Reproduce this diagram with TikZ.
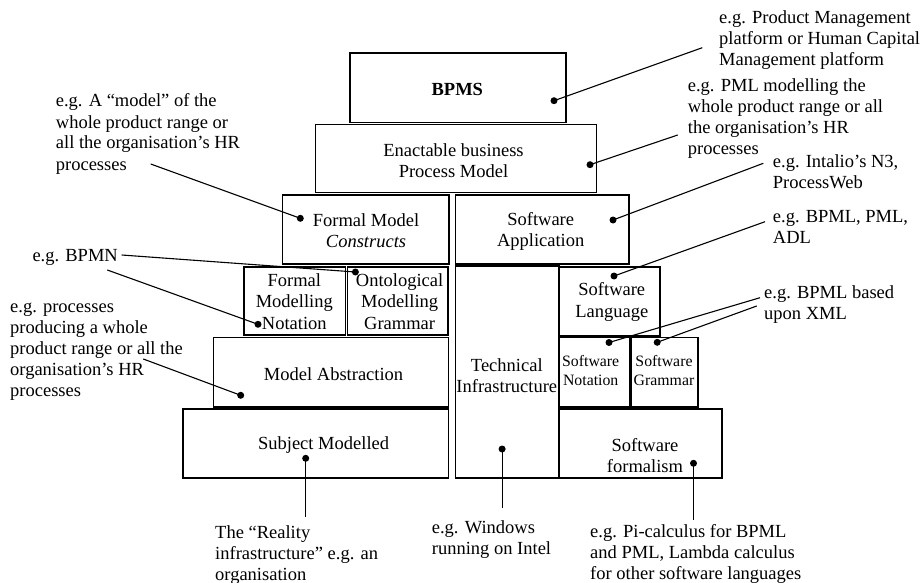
\documentclass[tikz,border=0pt]{standalone}
\usepackage{fontspec}
\setmainfont{Liberation Serif}
\begin{document}
\begin{tikzpicture}[x=1pt,y=-1pt,
  box/.style={draw, line width=1.8pt, inner sep=0pt, outer sep=0pt},
  txt/.style={inner sep=0pt, align=center, font=\fontsize{18.5}{21.5}\selectfont},
  stxt/.style={inner sep=0pt, align=center, font=\fontsize{15.8}{19}\selectfont},
  lbl/.style={inner sep=0pt, align=left, anchor=base west, font=\fontsize{18.5}{21}\selectfont},
  lead/.style={line width=1.1pt},
  dot/.style={circle, fill, inner sep=0pt, minimum size=7pt}]
\useasboundingbox (0,0) rectangle (923,583);

% boxes
\node[box, minimum width=216pt, minimum height=69.5pt] (bpms) at (458,87.75) {};
\node[box, minimum width=281pt, minimum height=68pt] (enact) at (456,158.5) {};
\node[box, minimum width=166.2pt, minimum height=69pt] (fmc) at (365.6,229.5) {};
\node[box, minimum width=173.8pt, minimum height=69pt] (swapp) at (542.4,229.5) {};
\node[box, minimum width=101.4pt, minimum height=68.6pt] (fmn) at (294.7,301) {};
\node[box, minimum width=100.5pt, minimum height=68.6pt] (omg) at (397.75,301) {};
\node[box, minimum width=235pt, minimum height=69.2pt] (mabs) at (331,372.1) {};
\node[box, minimum width=265.5pt, minimum height=69.3pt] (subj) at (315.75,443.65) {};
\node[box, minimum width=103.1pt, minimum height=212.3pt] (tech) at (507.05,372.15) {};
\node[box, minimum width=101.6pt, minimum height=69pt] (swlang) at (609.4,301.2) {};
\node[box, minimum width=70.3pt, minimum height=69.2pt] (swnot) at (594.45,372.1) {};
\node[box, minimum width=66.6pt, minimum height=69.2pt] (swgram) at (664.7,372.1) {};
\node[box, minimum width=163.2pt, minimum height=69.3pt] (swform) at (640.2,443.65) {};

% box texts
\node[txt, font=\fontsize{18.5}{21.5}\selectfont\bfseries] (tbpms) at (457.3,89.3) {BPMS};
\node[txt] (tenact) at (453.5,160.5) {Enactable business\\Process Model};
\node[txt] (tfmc) at (366,230.5) {Formal Model\\\textit{Constructs}};
\node[txt] (tswapp) at (540.7,231.5) {Software\\Application};
\node[txt] (tfmn) at (294.3,301.5) {Formal\\Modelling\\Notation};
\node[txt] (tomg) at (399.6,301.5) {Ontological\\Modelling\\Grammar};
\node[txt] (tmabs) at (333.6,374.3) {Model Abstraction};
\node[txt] (tsubj) at (323.6,445) {Subject Modelled};
\node[txt] (ttech) at (506.8,375.5) {Technical\\Infrastructure};
\node[txt] (tswlang) at (611.8,302) {Software\\Language};
\node[stxt] (tswnot) at (590.7,370.5) {Software\\Notation};
\node[stxt] (tswgram) at (664,370.5) {Software\\Grammar};
\node[txt] (tswform) at (645,455.5) {Software\\formalism};

% labels (positioned at the baseline of their last line)
\node[lbl] (l1) at (719,65.5) {e.g. Product Management\\platform or Human Capital\\Management platform};
\node[lbl] (l2) at (687.7,154.5) {e.g. PML modelling the\\whole product range or all\\the organisation’s HR\\processes};
\node[lbl] (l3) at (772.7,188.5) {e.g. Intalio’s N3,\\ProcessWeb};
\node[lbl] (l4) at (772.7,243) {e.g. BPML, PML,\\ADL};
\node[lbl] (l5) at (764,319.5) {e.g. BPML based\\upon XML};
\node[lbl] (l6) at (55.7,170) {e.g. A “model” of the\\whole product range or\\all the organisation’s HR\\processes};
\node[lbl] (l7) at (32.3,261) {e.g. BPMN};
\node[lbl] (l8) at (10,396) {e.g. processes\\producing a whole\\product range or all the\\organisation’s HR\\processes};
\node[lbl] (l9) at (215,580) {The “Reality\\infrastructure” e.g. an\\organisation};
\node[lbl] (l10) at (431.7,554) {e.g. Windows\\running on Intel};
\node[lbl] (l11) at (590,579) {e.g. Pi-calculus for BPML\\and PML, Lambda calculus\\for other software languages};

% dots
\node[dot] (d1) at (554,100.7) {};
\node[dot] (d2) at (590,164.7) {};
\node[dot] (d3) at (613,220) {};
\node[dot] (d4) at (614,276) {};
\node[dot] (d5) at (609,342.5) {};
\node[dot] (d6) at (657.2,342.3) {};
\node[dot] (d7) at (300.3,218.3) {};
\node[dot] (d8) at (355.4,272) {};
\node[dot] (d9) at (258,324.3) {};
\node[dot] (d10) at (240.7,395.3) {};
\node[dot] (d11) at (305.7,458.3) {};
\node[dot] (d12) at (502.1,449) {};
\node[dot] (d13) at (693.5,463.3) {};

% leader ends
\coordinate (e1) at (702.3,47.7);
\coordinate (e2) at (677.7,135);
\coordinate (e3) at (763.3,163.3);
\coordinate (e4) at (765,221.7);
\coordinate (e5) at (760,297.7);
\coordinate (e6) at (756.7,306);
\coordinate (e7) at (150.7,164);
\coordinate (e8) at (121.7,255);
\coordinate (e9) at (107.3,270);
\coordinate (e10) at (143.3,359);
\coordinate (e11) at (305.7,516.7);
\coordinate (e12) at (502.1,508);
\coordinate (e13) at (693.5,520);

\foreach \i in {1,...,13} {\draw[lead] (d\i.center) -- (e\i);}
\end{tikzpicture}
\end{document}
